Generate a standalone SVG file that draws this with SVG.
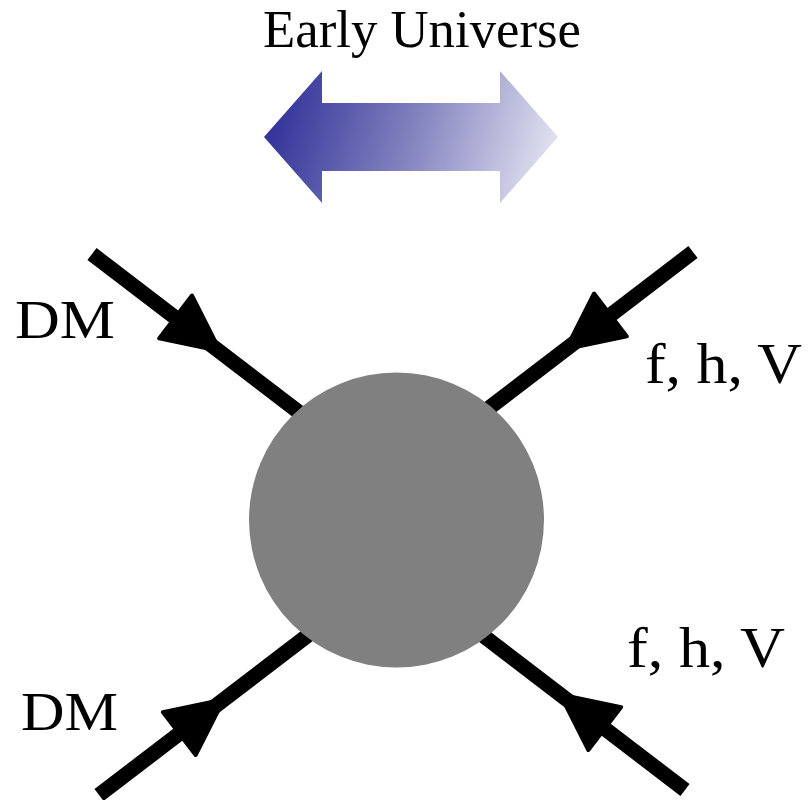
<svg xmlns="http://www.w3.org/2000/svg" xmlns:xlink="http://www.w3.org/1999/xlink" width="808" height="800" viewBox="0 0 808 800">
  <style>
    .lbl { font-family: "Liberation Serif", "Times New Roman", serif; fill: #000; }
    .leg { stroke: #000; stroke-width: 15; fill: none; stroke-linecap: butt; }
    .head { fill: #000; stroke: #000; stroke-width: 4; stroke-linejoin: round; }
  </style>
  <defs>
    <linearGradient id="blueGrad" gradientUnits="userSpaceOnUse" x1="270" y1="95" x2="560" y2="185">
      <stop offset="0" stop-color="#2e2e98"/>
      <stop offset="0.5" stop-color="#8585c0"/>
      <stop offset="1" stop-color="#ececf6"/>
    </linearGradient>
    <path id="ah" class="head" d="M0,0 L-56,-27 L-56,27 Z"/>
  </defs>
  <rect width="808" height="800" fill="#fff"/>

  <g id="title">
    <text class="lbl" x="263" y="47" font-size="52" textLength="318" lengthAdjust="spacingAndGlyphs">Early Universe</text>
  </g>

  <g id="double-arrow">
    <path d="M264,137 L322,71 L322,103 L500,103 L500,71 L558,137 L500,203 L500,171 L322,171 L322,203 Z" fill="url(#blueGrad)"/>
  </g>

  <g id="connectors">
    <line class="leg" x1="92" y1="254" x2="330" y2="436"/>
    <line class="leg" x1="693" y1="252" x2="455" y2="434"/>
    <line class="leg" x1="99" y1="795" x2="337" y2="613"/>
    <line class="leg" x1="685" y1="790" x2="447" y2="608"/>
    <use xlink:href="#ah" href="#ah" transform="translate(220,351) rotate(37.45)"/>
    <use xlink:href="#ah" href="#ah" transform="translate(566,349) rotate(142.55)"/>
    <use xlink:href="#ah" href="#ah" transform="translate(223.7,699.5) rotate(-37.45)"/>
    <use xlink:href="#ah" href="#ah" transform="translate(560.3,694.5) rotate(-142.55)"/>
  </g>

  <g id="blob">
    <circle cx="396.5" cy="520" r="147.5" fill="#808080"/>
  </g>

  <g id="label-dm-top">
    <text class="lbl" x="15" y="338" font-size="55" textLength="100" lengthAdjust="spacingAndGlyphs">DM</text>
  </g>
  <g id="label-dm-bottom">
    <text class="lbl" x="21" y="730" font-size="55" textLength="97" lengthAdjust="spacingAndGlyphs">DM</text>
  </g>
  <g id="label-fhv-top">
    <text class="lbl" x="645" y="383" font-size="56" textLength="157" lengthAdjust="spacingAndGlyphs">f, h, V</text>
  </g>
  <g id="label-fhv-bottom">
    <text class="lbl" x="627" y="667" font-size="56" textLength="158" lengthAdjust="spacingAndGlyphs">f, h, V</text>
  </g>
</svg>
